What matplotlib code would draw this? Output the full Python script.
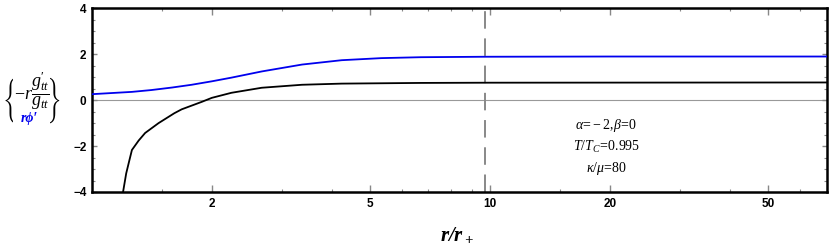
import numpy as np
import matplotlib.pyplot as plt
from matplotlib.ticker import FixedLocator, NullFormatter
from matplotlib.transforms import Bbox

plt.rcParams['mathtext.fontset'] = 'custom'
plt.rcParams['mathtext.rm'] = 'Liberation Serif'
plt.rcParams['mathtext.it'] = 'Liberation Serif:italic'
plt.rcParams['mathtext.bf'] = 'Liberation Serif:italic:bold'

# curves
r_phi = [1.0, 1.26, 1.41, 1.59, 1.78, 2.0, 2.24, 2.67, 3.37, 4.24, 5.33, 6.7, 9.7, 20, 70]
phi_vals = [0.26, 0.36, 0.44, 0.55, 0.67, 0.82, 0.98, 1.25, 1.55, 1.74, 1.83, 1.87, 1.89, 1.90, 1.90]

r_g = [1.197, 1.219, 1.242, 1.26, 1.31, 1.36, 1.47, 1.61, 1.68, 1.89, 2.0, 2.24, 2.67,
       3.37, 4.24, 6.7, 10, 70]
g_vals = [-4.0, -3.19, -2.61, -2.17, -1.76, -1.43, -1.0, -0.57, -0.40, -0.07, 0.10, 0.32, 0.54,
          0.67, 0.72, 0.75, 0.76, 0.77]

r_mark = 9.7
x_major = [2, 5, 10, 20, 50]
x_minor = [1.5, 3, 4, 6, 7, 8, 9, 15, 30, 40, 60, 70]
y_major = [-4, -2, 0, 2, 4]
y_minor = [v for v in np.arange(-4, 4.01, 0.5) if v not in y_major]

W, H = 830, 247
fig = plt.figure(figsize=(8.3, 2.47), dpi=100)
ax = fig.add_axes([0.1108, 0.2227, 0.8850, 0.7437])

ax.axhline(0, color='#999999', lw=0.8, zorder=1)
ax.axvline(r_mark, color='#888888', lw=1.4, dashes=(9, 5), zorder=1)
ax.plot(r_phi, phi_vals, color='#0000ee', lw=1.3, zorder=3)
ax.plot(r_g, g_vals, color='black', lw=1.3, zorder=3)

ax.set_xscale('log')
ax.set_xlim(1.0, 70)
ax.set_ylim(-4, 4)

ax.xaxis.set_major_locator(FixedLocator(x_major))
ax.xaxis.set_minor_locator(FixedLocator(x_minor))
ax.xaxis.set_minor_formatter(NullFormatter())
ax.set_xticklabels([str(v) for v in x_major])
ax.yaxis.set_major_locator(FixedLocator(y_major))
ax.yaxis.set_minor_locator(FixedLocator(y_minor))
ax.set_yticklabels(['\u22124', '\u22122', '0', '2', '4'])

ax.tick_params(which='both', direction='in', top=True, right=True, color='#888888',
               labelsize=8.5, pad=4)
ax.tick_params(which='major', length=5, width=1.0)
ax.tick_params(which='minor', length=2.5, width=0.8)
ax.tick_params(axis='y', which='major', length=3.5)
for lab in ax.get_xticklabels() + ax.get_yticklabels():
    lab.set_fontweight('bold')
    lab.set_family('Liberation Sans')
for sp in ax.spines.values():
    sp.set_linewidth(1.8)

# annotation
ax.text(0.7, 0.364, r'$\alpha\!=\!-2,\!\beta\!=\!0$', transform=ax.transAxes, ha='center', va='center', fontsize=10)
ax.text(0.7, 0.245, r'$T/T_C\!=\!\mathrm{0.995}$', transform=ax.transAxes, ha='center', va='center', fontsize=10)
ax.text(0.7, 0.13, r'$\kappa/\mu\!=\!\mathrm{80}$', transform=ax.transAxes, ha='center', va='center', fontsize=10)

# x label
fig.text(457 / W, 1 - 234 / H, r'$\mathbf{r/r_+}$', ha='center', va='center', fontsize=15)

# y label: thin stix braces (only the brace part of a tall delimiter expression is kept)
tall = r'\dfrac{\dfrac{|}{|}}{|}'
lb = fig.text(2 / W, 1 - 100 / H, r'$\left\{' + tall + r'\right.$', ha='left', va='center',
              fontsize=12, math_fontfamily='stix')
lb.set_clip_box(Bbox([[0, 0], [13, H]]))
rb = fig.text(61 / W, 1 - 100 / H, r'$\left.' + tall + r'\right\}$', ha='right', va='center',
              fontsize=12, math_fontfamily='stix')
rb.set_clip_box(Bbox([[50, 0], [W, H]]))

fig.text(32 / W, 1 - 91 / H, r'$-r\dfrac{g^{\prime}_{tt}}{g_{tt}}$', ha='center', va='center',
         fontsize=13)
fig.text(29 / W, 1 - 118 / H, 'r\u03d5\u2032', ha='center', va='center', fontsize=10,
         color='#0000ee', style='italic', weight='bold',
         family=['Liberation Serif', 'DejaVu Serif'])

fig.savefig('out.png', dpi=100)
